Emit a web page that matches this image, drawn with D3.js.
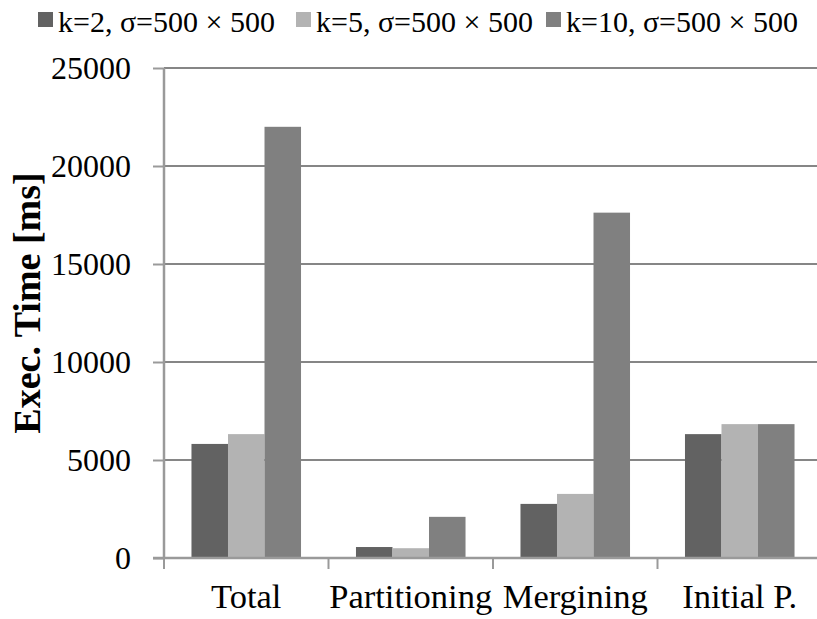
<!DOCTYPE html>
<html>
<head>
<meta charset="utf-8">
<script src="https://cdn.jsdelivr.net/npm/d3@7"></script>
<style>
  html, body { margin: 0; padding: 0; background: #fff; }
  svg { display: block; }
  text { font-family: "Liberation Serif", "Times New Roman", serif; fill: #000; }
</style>
</head>
<body>
<svg id="chart" width="817" height="619"></svg>
<script>
// Execution time per phase, three configurations
const categories = ["Total", "Partitioning", "Mergining", "Initial P."];
const seriesNames = ["k=2, σ=500 × 500", "k=5, σ=500 × 500", "k=10, σ=500 × 500"];
const k2Values  = [5820, 560, 2760, 6320];
const k5Values  = [6320, 500, 3270, 6830];
const k10Values = [22000, 2100, 17620, 6830];
const seriesColors = ["#626262", "#b3b3b3", "#808080"];
const yTicks = [0, 5000, 10000, 15000, 20000, 25000];
const yTitle = "Exec. Time [ms]";

const seriesValues = [k2Values, k5Values, k10Values];
const serif = "'Liberation Serif', 'Times New Roman', serif";

const svg = d3.select("#chart");
const plotLeft = 164, plotRight = 822, plotTop = 68, plotBottom = 558;

const x0 = d3.scaleBand()
  .domain(categories)
  .range([plotLeft, plotRight])
  .paddingInner(0.334)
  .paddingOuter(0.167);

const x1 = d3.scaleBand()
  .domain(d3.range(seriesNames.length))
  .range([0, x0.bandwidth()]);

const y = d3.scaleLinear()
  .domain([0, 25000])
  .range([plotBottom, plotTop]);

// horizontal gridlines
svg.append("g")
  .selectAll("line")
  .data(yTicks.filter(t => t > 0))
  .join("line")
  .attr("x1", plotLeft).attr("x2", 817)
  .attr("y1", d => y(d)).attr("y2", d => y(d))
  .attr("stroke", "#868686")
  .attr("stroke-width", 2);

// bars
const groups = svg.append("g")
  .selectAll("g")
  .data(categories)
  .join("g")
  .attr("transform", d => `translate(${x0(d)},0)`);

groups.selectAll("rect")
  .data((c, ci) => seriesValues.map((vals, si) => ({ si, v: vals[ci] })))
  .join("rect")
  .attr("x", d => x1(d.si))
  .attr("width", x1.bandwidth())
  .attr("y", d => y(d.v))
  .attr("height", d => y(0) - y(d.v))
  .attr("fill", d => seriesColors[d.si]);

// y axis
const yAxis = svg.append("g")
  .attr("transform", `translate(${plotLeft},0)`)
  .call(d3.axisLeft(y).tickValues(yTicks).tickSize(11).tickPadding(22).tickFormat(d3.format("d")));
yAxis.attr("font-family", null);
yAxis.select(".domain").attr("stroke", "#9a9a9a").attr("stroke-width", 2.5)
  .attr("d", `M0,${plotTop}V${plotBottom}`);
yAxis.selectAll(".tick line").attr("stroke", "#9a9a9a").attr("stroke-width", 2);
yAxis.selectAll(".tick text")
  .style("font-family", serif)
  .attr("font-size", 32)
  .attr("fill", "#000");

// x axis with boundary ticks
const xAxisG = svg.append("g");
xAxisG.append("line")
  .attr("x1", plotLeft - 11).attr("x2", 817)
  .attr("y1", plotBottom).attr("y2", plotBottom)
  .attr("stroke", "#9a9a9a").attr("stroke-width", 2.5);
xAxisG.selectAll("line.tk")
  .data(categories)
  .join("line")
  .attr("class", "tk")
  .attr("x1", d => x0(d) - x0.step() * x0.paddingOuter())
  .attr("x2", d => x0(d) - x0.step() * x0.paddingOuter())
  .attr("y1", plotBottom).attr("y2", plotBottom + 11)
  .attr("stroke", "#9a9a9a").attr("stroke-width", 2);
xAxisG.selectAll("text")
  .data(categories)
  .join("text")
  .attr("x", d => x0(d) + x0.bandwidth() / 2)
  .attr("y", 608)
  .attr("text-anchor", "middle")
  .style("font-family", serif)
  .attr("font-size", 34.5)
  .text(d => d);

// y title
svg.append("text")
  .attr("transform", `translate(40,303) rotate(-90)`)
  .attr("text-anchor", "middle")
  .style("font-family", serif)
  .attr("font-size", 38)
  .attr("font-weight", "bold")
  .text(yTitle);

// legend
const legendX = [38, 296, 546];
const legend = svg.append("g")
  .selectAll("g")
  .data(seriesNames)
  .join("g")
  .attr("transform", (d, i) => `translate(${legendX[i]},0)`);
legend.append("rect")
  .attr("x", 0).attr("y", 12)
  .attr("width", 15).attr("height", 15)
  .attr("fill", (d, i) => seriesColors[i]);
legend.append("text")
  .attr("x", 20).attr("y", 32)
  .style("font-family", serif)
  .attr("font-size", 30)
  .text(d => d);
</script>
</body>
</html>
